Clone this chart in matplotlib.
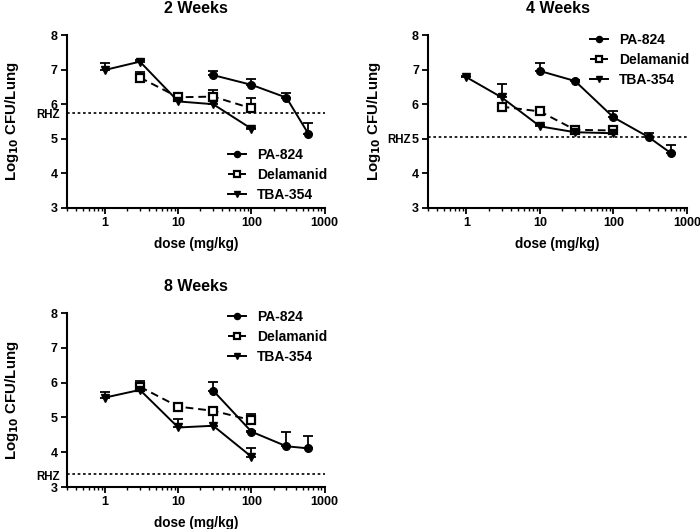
import matplotlib
matplotlib.use("Agg")
import matplotlib.pyplot as plt
import matplotlib.transforms as mtransforms
from matplotlib.ticker import LogLocator, FixedLocator, NullFormatter

plt.rcParams['font.family'] = ['Liberation Sans', 'DejaVu Sans']
plt.rcParams['font.weight'] = 'bold'
plt.rcParams['mathtext.default'] = 'bf'

titles = ["2 Weeks", "4 Weeks", "8 Weeks"]
series_names = ["PA-824", "Delamanid", "TBA-354"]

# 2 weeks
w2_pa_x = [30, 100, 300, 600]
w2_pa_y = [6.84, 6.56, 6.19, 5.14]
w2_pa_e = [0.13, 0.16, 0.13, 0.31]
w2_de_x = [3, 10, 30, 100]
w2_de_y = [6.77, 6.20, 6.22, 5.88]
w2_de_e = [0.17, 0.03, 0.19, 0.29]
w2_tb_x = [1, 3, 10, 30, 100]
w2_tb_y = [6.99, 7.23, 6.08, 6.00, 5.29]
w2_tb_e = [0.19, 0.05, 0.03, 0.10, 0.03]
w2_rhz = 5.76

# 4 weeks
w4_pa_x = [10, 30, 100, 300, 600]
w4_pa_y = [6.96, 6.67, 5.62, 5.05, 4.59]
w4_pa_e = [0.22, 0.03, 0.19, 0.11, 0.24]
w4_de_x = [3, 10, 30, 100]
w4_de_y = [5.93, 5.79, 5.26, 5.24]
w4_de_e = [0.05, 0.04, 0.03, 0.03]
w4_tb_x = [1, 3, 10, 30, 100]
w4_tb_y = [6.78, 6.20, 5.36, 5.19, 5.16]
w4_tb_e = [0.03, 0.38, 0.03, 0.03, 0.03]
w4_rhz = 5.04

# 8 weeks
w8_pa_x = [30, 100, 300, 600]
w8_pa_y = [5.77, 4.59, 4.17, 4.11]
w8_pa_e = [0.24, 0.03, 0.42, 0.35]
w8_de_x = [3, 10, 30, 100]
w8_de_y = [5.88, 5.31, 5.19, 4.92]
w8_de_e = [0.18, 0.03, 0.05, 0.19]
w8_tb_x = [1, 3, 10, 30, 100]
w8_tb_y = [5.57, 5.79, 4.71, 4.76, 3.87]
w8_tb_e = [0.15, 0.03, 0.23, 0.30, 0.26]
w8_rhz = 3.38

panels = [
    ((w2_pa_x, w2_pa_y, w2_pa_e), (w2_de_x, w2_de_y, w2_de_e), (w2_tb_x, w2_tb_y, w2_tb_e), w2_rhz),
    ((w4_pa_x, w4_pa_y, w4_pa_e), (w4_de_x, w4_de_y, w4_de_e), (w4_tb_x, w4_tb_y, w4_tb_e), w4_rhz),
    ((w8_pa_x, w8_pa_y, w8_pa_e), (w8_de_x, w8_de_y, w8_de_e), (w8_tb_x, w8_tb_y, w8_tb_e), w8_rhz),
]

W, H = 700, 529
rects = [
    [66.7 / W, 1 - 208 / H, 258 / W, 173 / H],
    [428 / W, 1 - 208 / H, 259 / W, 173 / H],
    [66.7 / W, 1 - 487 / H, 258 / W, 174 / H],
]
legend_anchor = [(228 / W, 1 - 148 / H), (590 / W, 1 - 33 / H), (228 / W, 1 - 310 / H)]
rhz_offset = [-5, -12, -5]

styles = [
    dict(marker='o', linestyle='-', mfc='black', ms=5.5),
    dict(marker='s', linestyle='--', mfc='white', ms=6, mew=1.6),
    dict(marker='v', linestyle='-', mfc='black', ms=5.5),
]

fig = plt.figure(figsize=(7, 5.29), dpi=100)
for i, (pa, de, tb, rhz) in enumerate(panels):
    ax = fig.add_axes(rects[i])
    handles = []
    for (xs, ys, es), st, name in zip((pa, de, tb), styles, series_names):
        ax.errorbar(xs, ys, yerr=[[0] * len(es), es], fmt='none', ecolor='black',
                    elinewidth=1.3, capsize=3.5, capthick=1.3, zorder=2)
        h, = ax.plot(xs, ys, color='black', lw=1.4, mec='black', label=name, zorder=3,
                     dashes=(4, 2.5) if st['linestyle'] == '--' else (None, None), **st)
        handles.append(h)
    ax.axhline(rhz, color='black', lw=1.2, ls=(0, (1.6, 1.6)), zorder=1)
    trans = mtransforms.blended_transform_factory(ax.transAxes, ax.transData)
    off = mtransforms.offset_copy(trans, fig=fig, x=rhz_offset[i], y=-2, units='points')
    ax.text(0, rhz, "RHZ", transform=off, ha='right', va='center', fontsize=8.3, fontweight='bold')
    ax.set_xscale('log')
    ax.set_xlim(0.3, 1000)
    ax.set_ylim(3, 8)
    ax.xaxis.set_major_locator(FixedLocator([1, 10, 100, 1000]))
    ax.xaxis.set_minor_locator(LogLocator(base=10, subs=range(2, 10), numticks=20))
    ax.xaxis.set_minor_formatter(NullFormatter())
    ax.set_xticklabels(["1", "10", "100", "1000"])
    ax.set_yticks([3, 4, 5, 6, 7, 8])
    for s in ['top', 'right']:
        ax.spines[s].set_visible(False)
    for s in ['left', 'bottom']:
        ax.spines[s].set_linewidth(1.5)
    ax.tick_params(axis='both', which='major', length=4.5, width=1.3, labelsize=9, direction='out', pad=2)
    ax.tick_params(axis='x', which='minor', length=2.5, width=1.0)
    for lab in ax.get_xticklabels() + ax.get_yticklabels():
        lab.set_fontweight('bold')
    ax.set_title(titles[i], fontsize=11.5, fontweight='bold', pad=16)
    ax.set_xlabel("dose (mg/kg)", fontsize=9.8, fontweight='bold', labelpad=6)
    ax.set_ylabel(r"Log$_{10}$ CFU/Lung", fontsize=10.8, fontweight='bold', labelpad=21)
    ax.legend(handles=handles, loc='upper left', bbox_to_anchor=legend_anchor[i],
              bbox_transform=fig.transFigure, frameon=False, borderpad=0, borderaxespad=0,
              handlelength=1.3, handletextpad=0.8, labelspacing=0.42, markerscale=0.8,
              prop={'weight': 'bold', 'size': 10})

fig.savefig("out.png", dpi=100)
